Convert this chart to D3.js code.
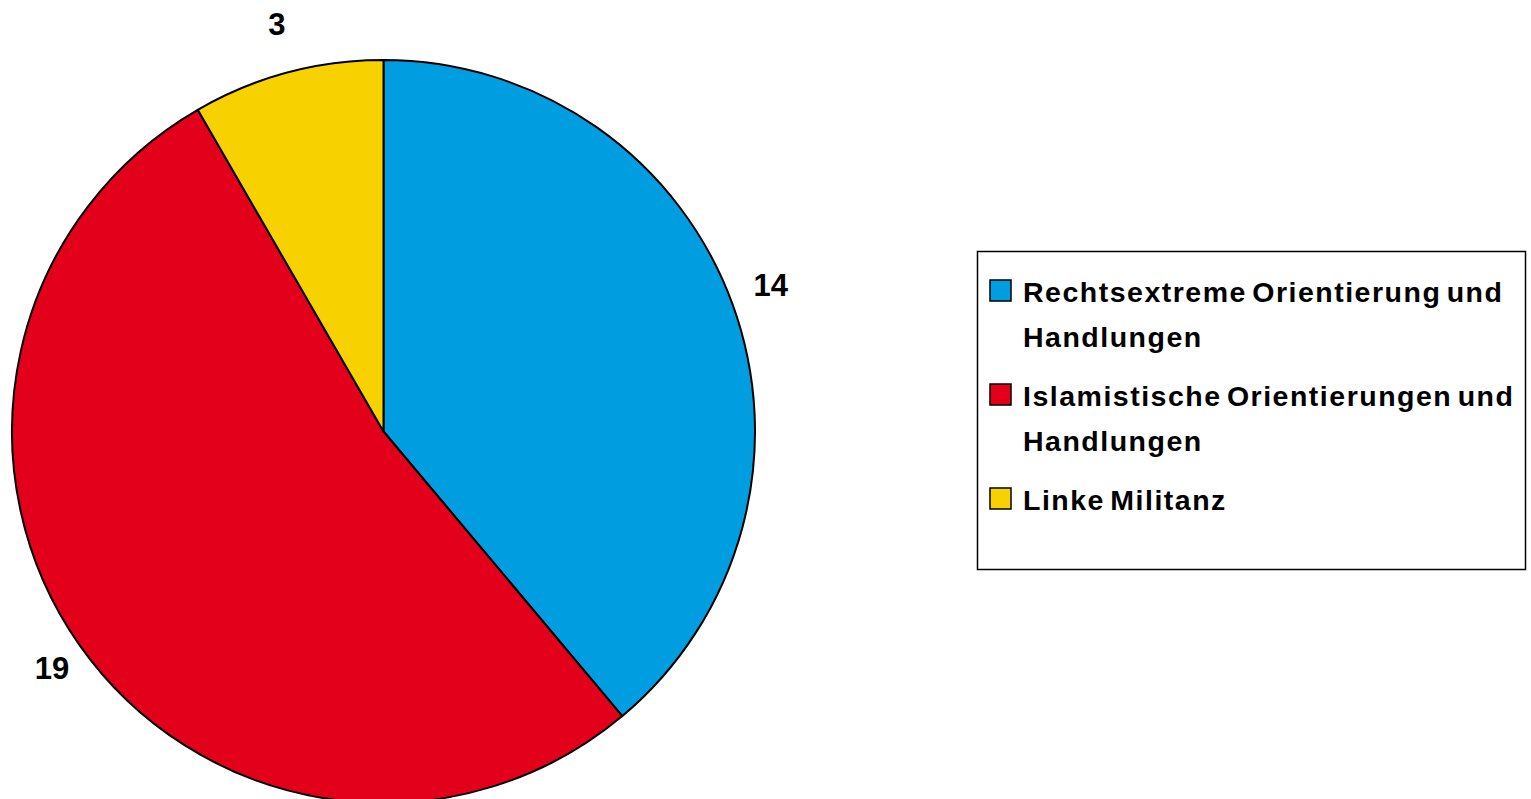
<!DOCTYPE html>
<html>
<head>
<meta charset="utf-8">
<script src="https://cdn.jsdelivr.net/npm/d3@7"></script>
<style>
  html, body { margin: 0; padding: 0; background: #fff; }
  svg { display: block; font-family: "Liberation Sans", Arial, sans-serif; }
</style>
</head>
<body>
<div id="chart"></div>
<script>
// categories, values and colours of the pie
var categories = ["Rechtsextreme Orientierung und Handlungen", "Islamistische Orientierungen und Handlungen", "Linke Militanz"];
var legendLines = [["Rechtsextreme Orientierung und", "Handlungen"], ["Islamistische Orientierungen und", "Handlungen"], ["Linke Militanz"]];
var values = [14, 19, 3];
var colors = ["#009ee0", "#e2001a", "#f7d100"];

(function () {
  "use strict";

  var W = 1531, H = 799;
  var cx = 383.5, cy = 431.5, R = 371.5;

  var svg = d3.select("#chart").append("svg")
    .attr("width", W)
    .attr("height", H);

  var data = values.map(function (v, i) {
    return { name: categories[i], value: v, color: colors[i], lines: legendLines[i] };
  });

  var pie = d3.pie()
    .sort(null)
    .value(function (d) { return d.value; });

  var arc = d3.arc().innerRadius(0).outerRadius(R);
  var labelArc = d3.arc().innerRadius(412).outerRadius(412);

  var g = svg.append("g").attr("transform", "translate(" + cx + "," + cy + ")");
  var arcs = pie(data);

  g.selectAll("path")
    .data(arcs)
    .join("path")
    .attr("d", arc)
    .attr("fill", function (d) { return d.data.color; })
    .attr("stroke", "#000")
    .attr("stroke-width", 2)
    .attr("stroke-linejoin", "round");

  // value labels outside the slices (small nudges to match the original placement)
  g.selectAll("text.val")
    .data(arcs)
    .join("text")
    .attr("class", "val")
    .attr("transform", function (d) {
      var c = labelArc.centroid(d);
      if (d.data.value === 3) c[1] -= 10;
      if (d.data.value === 14) c[1] -= 6;
      if (d.data.value === 19) c[0] += 6;
      return "translate(" + c[0] + "," + c[1] + ")";
    })
    .attr("text-anchor", "middle")
    .attr("dy", "0.36em")
    .attr("font-size", 31)
    .attr("font-weight", "bold")
    .text(function (d) { return d.data.value; });

  // legend
  var lg = svg.append("g");
  lg.append("rect")
    .attr("x", 977.5).attr("y", 251.5)
    .attr("width", 548).attr("height", 318)
    .attr("fill", "#fff")
    .attr("stroke", "#000")
    .attr("stroke-width", 1.5);

  var itemY = [302, 406, 510];
  var item = lg.selectAll("g.item")
    .data(data)
    .join("g")
    .attr("class", "item")
    .attr("transform", function (d, i) { return "translate(0," + itemY[i] + ")"; });

  item.append("rect")
    .attr("x", 990).attr("y", -22)
    .attr("width", 21).attr("height", 21)
    .attr("fill", function (d) { return d.color; })
    .attr("stroke", "#000")
    .attr("stroke-width", 1.5);

  item.each(function (d) {
    var sel = d3.select(this);
    d.lines.forEach(function (line, j) {
      sel.append("text")
        .attr("x", 1023)
        .attr("y", j * 45)
        .attr("font-size", 28.5)
        .attr("font-weight", "bold")
        .attr("letter-spacing", 1.5)
        .attr("word-spacing", -4)
        .text(line);
    });
  });
})();
</script>
</body>
</html>
